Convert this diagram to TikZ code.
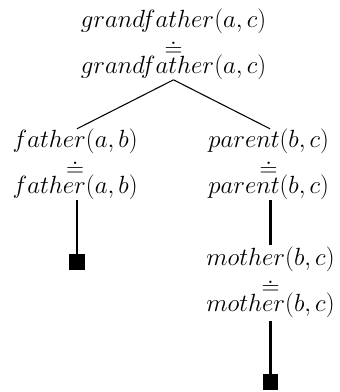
\documentclass[tikz,border=0pt]{standalone}
\newcommand\atomfont{\fontsize{17.28}{20.0}\selectfont\lineskiplimit=-16000pt\relax}
\begin{document}
\begin{tikzpicture}[x=0.75pt,y=-0.75pt,
  atom/.style={inner sep=0pt, outer sep=0pt, anchor=north, align=center,
    font=\atomfont, scale=1.08, transform shape},
  edge/.style={line width=0.8pt},
  stem/.style={line width=1.6pt},
  leaf/.style={fill=black, draw=none, inner sep=0pt, minimum size=11.6pt}]
\useasboundingbox (0,0) rectangle (339,392);
\node[atom] (g) at (173.5,9.0) {$grandfather(a,c)$\\$\doteq$\\[-8.06pt]$grandfather(a,c)$};
\node[atom] (f) at (75.2,128.8) {$father(a,b)$\\$\doteq$\\[-8.06pt]$father(a,b)$};
\node[atom] (p) at (268.7,128.8) {$parent(b,c)$\\$\doteq$\\[-8.06pt]$parent(b,c)$};
\node[atom] (m) at (270.5,247.3) {$mother(b,c)$\\$\doteq$\\[-8.06pt]$mother(b,c)$};
\node[leaf] (s1) at (77,262) {};
\node[leaf] (s2) at (270.5,382) {};
\draw[edge] (g.south) -- ([xshift=1.3pt]f.north);
\draw[edge] (g.south) -- ([xshift=1pt]p.north);
\draw[stem] ([yshift=-0.5pt]s1.north |- f.south) -- (s1.north);
\draw[stem] ([yshift=-0.5pt]s2.north |- p.south) -- ([yshift=1.5pt]s2.north |- m.north);
\draw[stem] ([yshift=-2pt]s2.north |- m.south) -- (s2.north);
\end{tikzpicture}
\end{document}
